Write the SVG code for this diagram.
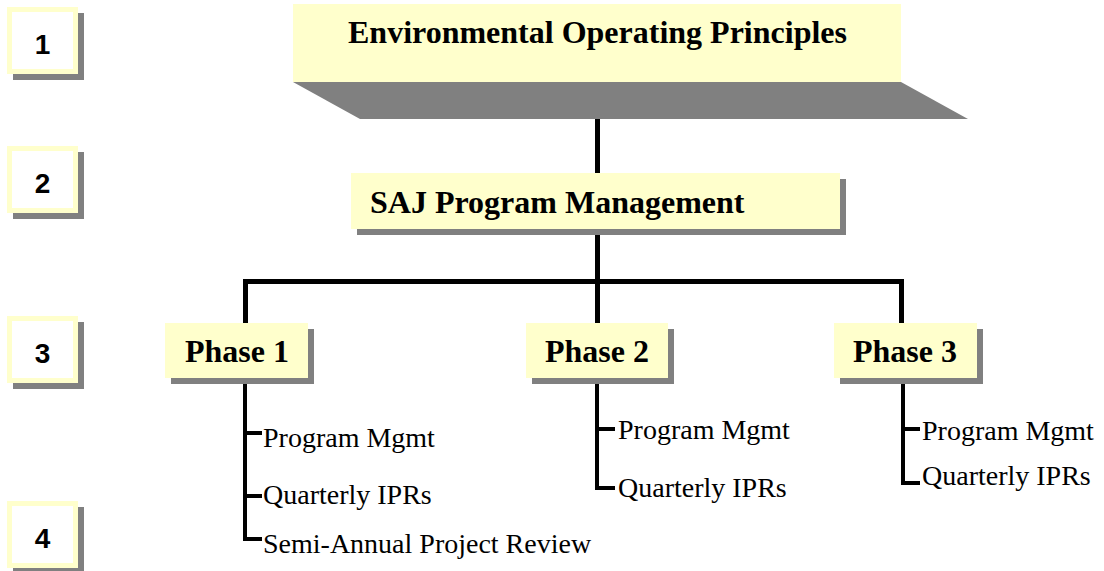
<svg xmlns="http://www.w3.org/2000/svg" width="1104" height="571" viewBox="0 0 1104 571">
<style>
.shadow{fill:#808080}
.fill{fill:#FFFFCC}
.num{fill:#FFFFFF;stroke:#FFFFCC;stroke-width:5}
.numt{font-family:"Liberation Sans",Arial,sans-serif;font-size:28px;font-weight:bold;fill:#000;text-anchor:middle}
.head{font-family:"Liberation Serif","Times New Roman",serif;font-size:32px;font-weight:bold;fill:#000}
.item{font-family:"Liberation Serif","Times New Roman",serif;font-size:28px;fill:#000}
.conn{fill:none;stroke:#000;stroke-width:5;stroke-linejoin:miter}
.list{fill:none;stroke:#000;stroke-width:4;stroke-linejoin:miter}
</style>
<rect width="1104" height="571" fill="#FFFFFF"/>
<g id="level1">
<rect class="shadow" x="13" y="13" width="71" height="67"/>
<rect class="num" x="9.5" y="9.5" width="66" height="62"/>
<text class="numt" x="42.5" y="54">1</text>
</g>
<g id="level2">
<rect class="shadow" x="13" y="152" width="71" height="67"/>
<rect class="num" x="9.5" y="148.5" width="66" height="62"/>
<text class="numt" x="42.5" y="193">2</text>
</g>
<g id="level3">
<rect class="shadow" x="13" y="322" width="71" height="67"/>
<rect class="num" x="9.5" y="318.5" width="66" height="62"/>
<text class="numt" x="42.5" y="363">3</text>
</g>
<g id="level4">
<rect class="shadow" x="13" y="507" width="71" height="67"/>
<rect class="num" x="9.5" y="503.5" width="66" height="62"/>
<text class="numt" x="42.5" y="548">4</text>
</g>
<g id="connectors">
<path class="conn" d="M597.5 119 V173"/>
<path class="conn" d="M597.5 229 V323"/>
<path class="conn" d="M245.5 323 V281.5 H901.5 V323"/>
<path class="list" d="M245 378 V539 H262 M245 433 H262 M245 496 H262"/>
<path class="list" d="M597 378 V488 H615 M597 429 H615"/>
<path class="list" d="M903 378 V483 H920 M903 429 H920"/>
</g>
<g id="eop">
<polygon class="shadow" points="293,82 901,82 968,119 360,119"/>
<rect class="fill" x="293" y="4" width="608" height="78"/>
<text class="head" x="348" y="43">Environmental Operating Principles</text>
</g>
<g id="saj">
<rect class="shadow" x="357" y="179" width="489" height="56"/>
<rect class="fill" x="351" y="173" width="489" height="56"/>
<text class="head" x="370" y="213">SAJ Program Management</text>
</g>
<g id="phase1">
<rect class="shadow" x="171" y="329" width="143" height="55"/>
<rect class="fill" x="165" y="323" width="143" height="55"/>
<text class="head" x="185" y="362">Phase 1</text>
</g>
<g id="phase2">
<rect class="shadow" x="532" y="329" width="142" height="55"/>
<rect class="fill" x="526" y="323" width="142" height="55"/>
<text class="head" x="545" y="362">Phase 2</text>
</g>
<g id="phase3">
<rect class="shadow" x="840" y="329" width="143" height="55"/>
<rect class="fill" x="834" y="323" width="143" height="55"/>
<text class="head" x="853" y="362">Phase 3</text>
</g>
<g id="phase1-items">
<text class="item" x="263" y="447">Program Mgmt</text>
<text class="item" x="263" y="504">Quarterly IPRs</text>
<text class="item" x="263" y="553">Semi-Annual Project Review</text>
</g>
<g id="phase2-items">
<text class="item" x="618" y="439">Program Mgmt</text>
<text class="item" x="618" y="497">Quarterly IPRs</text>
</g>
<g id="phase3-items">
<text class="item" x="922" y="440">Program Mgmt</text>
<text class="item" x="922" y="485">Quarterly IPRs</text>
</g>
</svg>
